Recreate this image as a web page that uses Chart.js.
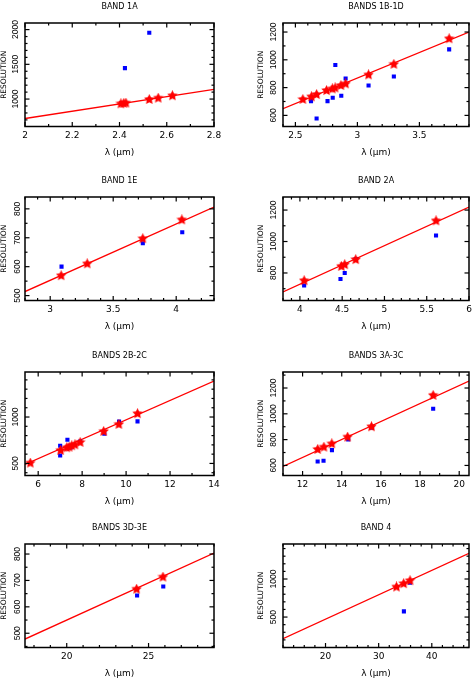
<!DOCTYPE html>
<html><head><meta charset="utf-8">
<script src="https://cdn.jsdelivr.net/npm/chart.js@4/dist/chart.umd.min.js"></script>
<style>
html,body{margin:0;padding:0;background:#fff;overflow:hidden;width:474px;height:679px;position:relative;}
canvas{position:absolute;}
</style></head><body>
<canvas id="c0" width="237" height="160" style="left:0px;top:0px"></canvas>
<canvas id="c1" width="217" height="160" style="left:257px;top:0px"></canvas>
<canvas id="c2" width="237" height="160" style="left:0px;top:174px"></canvas>
<canvas id="c3" width="217" height="160" style="left:257px;top:174px"></canvas>
<canvas id="c4" width="237" height="160" style="left:0px;top:349px"></canvas>
<canvas id="c5" width="217" height="160" style="left:257px;top:349px"></canvas>
<canvas id="c6" width="237" height="160" style="left:0px;top:521px"></canvas>
<canvas id="c7" width="217" height="160" style="left:257px;top:521px"></canvas>
<script>
// ---------------- DATA ----------------
const titles = ['BAND 1A','BANDS 1B-1D','BAND 1E','BAND 2A','BANDS 2B-2C','BANDS 3A-3C','BANDS 3D-3E','BAND 4'];

// BAND 1A
const b1A_xRange = [2.0, 2.8];
const b1A_yRange = [605, 2095];
const b1A_xTicks = [2, 2.2, 2.4, 2.6, 2.8];
const b1A_yTicks = [1000, 1500, 2000];
const b1A_lineX = [2.0, 2.8];
const b1A_lineY = [720, 1140];
const b1A_starX = [2.406, 2.418, 2.427, 2.526, 2.564, 2.624];
const b1A_starY = [932, 938, 943, 994, 1014, 1048];
const b1A_dotX = [2.408, 2.423, 2.526];
const b1A_dotY = [942, 1445, 1955];

// BANDS 1B-1D
const b1B_xRange = [2.4, 3.9];
const b1B_yRange = [520, 1265];
const b1B_xTicks = [2.5, 3, 3.5];
const b1B_yTicks = [600, 800, 1000, 1200];
const b1B_lineX = [2.4, 3.9];
const b1B_lineY = [648, 1200];
const b1B_starX = [2.56, 2.629, 2.671, 2.751, 2.798, 2.82, 2.867, 2.905, 3.09, 3.294, 3.74];
const b1B_starY = [715, 734, 750, 779, 791, 798, 815, 827, 892, 968, 1152];
const b1B_dotX = [2.626, 2.671, 2.759, 2.801, 2.822, 2.870, 2.905, 3.09, 3.294, 3.74];
const b1B_dotY = [703, 578, 703, 727, 963, 741, 865, 815, 880, 1075];

// BAND 1E
const b1E_xRange = [2.8, 4.3];
const b1E_yRange = [483, 841];
const b1E_xTicks = [3, 3.5, 4];
const b1E_yTicks = [500, 600, 700, 800];
const b1E_lineX = [2.8, 4.3];
const b1E_lineY = [514, 806];
const b1E_starX = [3.087, 3.294, 3.735, 4.045];
const b1E_starY = [569, 610, 697, 762];
const b1E_dotX = [3.09, 3.735, 4.048];
const b1E_dotY = [600, 681, 719];

// BAND 2A
const b2A_xRange = [3.8, 6.0];
const b2A_yRange = [625, 1283];
const b2A_xTicks = [4, 4.5, 5, 5.5, 6];
const b2A_yTicks = [800, 1000, 1200];
const b2A_lineX = [3.8, 6.0];
const b2A_lineY = [679, 1219];
const b2A_starX = [4.05, 4.49, 4.53, 4.66, 5.61];
const b2A_starY = [751, 842, 853, 885, 1132];
const b2A_dotX = [4.05, 4.48, 4.53, 4.66, 5.61];
const b2A_dotY = [720, 762, 800, 889, 1038];

// BANDS 2B-2C
const b2B_xRange = [5.4, 14];
const b2B_yRange = [370, 1485];
const b2B_xTicks = [6, 8, 10, 12, 14];
const b2B_yTicks = [500, 1000];
const b2B_lineX = [5.4, 14];
const b2B_lineY = [489, 1388];
const b2B_starX = [5.64, 7.02, 7.30, 7.41, 7.53, 7.67, 7.91, 8.98, 9.67, 10.52];
const b2B_starY = [504, 640, 669, 676, 691, 701, 727, 845, 921, 1036];
const b2B_dotX = [7.0, 7.0, 7.33, 7.48, 7.91, 9.01, 9.68, 10.52];
const b2B_dotY = [691, 586, 755, 673, 737, 820, 950, 953];

// BANDS 3A-3C
const b3A_xRange = [11, 20.5];
const b3A_yRange = [522, 1324];
const b3A_xTicks = [12, 14, 16, 18, 20];
const b3A_yTicks = [600, 800, 1000, 1200];
const b3A_lineX = [11, 20.5];
const b3A_lineY = [592, 1254];
const b3A_starX = [12.77, 13.09, 13.49, 14.3, 15.52, 18.67];
const b3A_starY = [724, 742, 768, 820, 900, 1143];
const b3A_dotX = [12.77, 13.07, 13.5, 14.33, 15.55, 18.67];
const b3A_dotY = [631, 636, 719, 802, 893, 1039];

// BANDS 3D-3E
const b3D_xRange = [17.45, 29];
const b3D_yRange = [446, 838];
const b3D_xTicks = [20, 25];
const b3D_yTicks = [500, 600, 700, 800];
const b3D_lineX = [17.45, 29];
const b3D_lineY = [478, 804];
const b3D_starX = [24.27, 25.88];
const b3D_starY = [667, 713];
const b3D_dotX = [24.3, 25.9];
const b3D_dotY = [643, 677];

// BAND 4
const b4_xRange = [12, 47];
const b4_yRange = [100, 1460];
const b4_xTicks = [20, 30, 40];
const b4_yTicks = [500, 1000];
const b4_lineX = [12, 47];
const b4_lineY = [215, 1338];
const b4_starX = [33.35, 34.7, 35.9];
const b4_starY = [895, 939, 978];
const b4_dotX = [35.9, 34.75];
const b4_dotY = [952, 575];

// minor tick steps (style)
const xMinorSteps = [0.1, 0.1, 0.1, 0.1, 1, 1, 1, 2];
const yMinorSteps = [100, 100, 50, 100, 100, 100, 50, 100];

// ---------------- BUILD ----------------
const panels = [
  [b1A_xRange,b1A_yRange,b1A_xTicks,b1A_yTicks,b1A_lineX,b1A_lineY,b1A_starX,b1A_starY,b1A_dotX,b1A_dotY],
  [b1B_xRange,b1B_yRange,b1B_xTicks,b1B_yTicks,b1B_lineX,b1B_lineY,b1B_starX,b1B_starY,b1B_dotX,b1B_dotY],
  [b1E_xRange,b1E_yRange,b1E_xTicks,b1E_yTicks,b1E_lineX,b1E_lineY,b1E_starX,b1E_starY,b1E_dotX,b1E_dotY],
  [b2A_xRange,b2A_yRange,b2A_xTicks,b2A_yTicks,b2A_lineX,b2A_lineY,b2A_starX,b2A_starY,b2A_dotX,b2A_dotY],
  [b2B_xRange,b2B_yRange,b2B_xTicks,b2B_yTicks,b2B_lineX,b2B_lineY,b2B_starX,b2B_starY,b2B_dotX,b2B_dotY],
  [b3A_xRange,b3A_yRange,b3A_xTicks,b3A_yTicks,b3A_lineX,b3A_lineY,b3A_starX,b3A_starY,b3A_dotX,b3A_dotY],
  [b3D_xRange,b3D_yRange,b3D_xTicks,b3D_yTicks,b3D_lineX,b3D_lineY,b3D_starX,b3D_starY,b3D_dotX,b3D_dotY],
  [b4_xRange,b4_yRange,b4_xTicks,b4_yTicks,b4_lineX,b4_lineY,b4_starX,b4_starY,b4_dotX,b4_dotY]
];

function makeStar(size, color) {
  const c = document.createElement('canvas');
  c.width = size; c.height = size;
  const g = c.getContext('2d');
  g.fillStyle = color;
  g.beginPath();
  const cx = size / 2, cy = size / 2, R = size / 2, r = R * 0.5;
  for (let i = 0; i < 10; i++) {
    const a = -Math.PI / 2 + i * Math.PI / 5;
    const rad = i % 2 ? r : R;
    g.lineTo(cx + rad * Math.cos(a), cy + rad * Math.sin(a));
  }
  g.closePath();
  g.fill();
  return c;
}
const starImg = makeStar(11, '#ff0000');

const framePlugin = {
  id: 'frame',
  afterDraw(chart, args, opts) {
    const {ctx, chartArea: a} = chart;
    const xs = chart.scales.x, ys = chart.scales.y;
    ctx.save();
    ctx.strokeStyle = '#000';
    ctx.lineWidth = 1.2;
    const seg = (x1, y1, x2, y2) => { ctx.beginPath(); ctx.moveTo(x1, y1); ctx.lineTo(x2, y2); ctx.stroke(); };
    const MAJ = 4.5, MIN = 2.5;
    const xMajor = xs.ticks.map(t => t.value);
    const yMajor = ys.ticks.map(t => t.value);
    const n0x = Math.ceil(xs.min / opts.xMinor - 1e-6), n1x = Math.floor(xs.max / opts.xMinor + 1e-6);
    for (let i = n0x; i <= n1x; i++) {
      const v = i * opts.xMinor;
      const isMaj = xMajor.some(m => Math.abs(m - v) < 1e-6);
      const p = xs.getPixelForValue(v);
      const L = isMaj ? MAJ : MIN;
      seg(p, a.bottom, p, a.bottom - L);
      seg(p, a.top, p, a.top + L);
    }
    const n0y = Math.ceil(ys.min / opts.yMinor - 1e-6), n1y = Math.floor(ys.max / opts.yMinor + 1e-6);
    for (let i = n0y; i <= n1y; i++) {
      const v = i * opts.yMinor;
      const isMaj = yMajor.some(m => Math.abs(m - v) < 1e-6);
      const p = ys.getPixelForValue(v);
      const L = isMaj ? MAJ : MIN;
      seg(a.left, p, a.left + L, p);
      seg(a.right, p, a.right - L, p);
    }
    ctx.lineWidth = 1.5;
    ctx.strokeRect(a.left, a.top, a.right - a.left, a.bottom - a.top);
    ctx.restore();
  }
};

const pts = (xs, ys) => xs.map((x, i) => ({x: x, y: ys[i]}));
const fmt = v => String(Math.round(v * 1000) / 1000);

panels.forEach((p, k) => {
  const [xr, yr, xt, yt, lx, ly, sx, sy, dx, dy] = p;
  const right = k % 2 === 1;
  new Chart(document.getElementById('c' + k), {
    type: 'scatter',
    data: {
      datasets: [
        {data: pts(lx, ly), showLine: true, borderColor: '#ff0000', borderWidth: 1.3, pointRadius: 0, order: 3},
        {data: pts(dx, dy), pointStyle: 'rect', pointRadius: 2.9, backgroundColor: '#0000ff', borderWidth: 0, order: 2},
        {data: pts(sx, sy), pointStyle: starImg, pointRadius: 5, backgroundColor: '#ff0000', borderWidth: 0, order: 1}
      ]
    },
    options: {
      responsive: false,
      animation: false,
      events: [],
      layout: {padding: {left: 0, top: 0, bottom: 0, right: right ? 1.5 : 23}},
      plugins: {
        legend: {display: false},
        tooltip: {enabled: false},
        title: {display: true, text: titles[k], fullSize: false, color: '#000',
          font: {family: 'DejaVu Sans', size: 8, weight: 'normal', lineHeight: 1},
          padding: {top: 2.5, bottom: 12.5}},
        frame: {xMinor: xMinorSteps[k], yMinor: yMinorSteps[k]}
      },
      scales: {
        x: {
          type: 'linear', min: xr[0], max: xr[1],
          grid: {display: false, drawTicks: false}, border: {display: false},
          afterBuildTicks: s => { s.ticks = xt.map(v => ({value: v})); },
          afterFit: s => { s.height = 33.5; s.paddingLeft = 0; s.paddingRight = 0; },
          ticks: {color: '#000', padding: 4, autoSkip: false, maxRotation: 0, minRotation: 0,
            font: {family: 'DejaVu Sans', size: 9}, callback: v => fmt(v)},
          title: {display: true, text: 'λ (μm)', color: '#000',
            font: {family: 'DejaVu Sans', size: 9, lineHeight: 1}, padding: {top: 0, bottom: 2.5}}
        },
        y: {
          type: 'linear', min: yr[0], max: yr[1],
          grid: {display: false, drawTicks: false}, border: {display: false},
          afterBuildTicks: s => { s.ticks = yt.map(v => ({value: v})); },
          afterFit: s => { s.width = right ? 26 : 25; },
          ticks: {color: '#000', padding: 0, autoSkip: false, minRotation: 90, maxRotation: 90, crossAlign: 'center',
            font: {family: 'Liberation Sans', size: 8.5}, callback: v => fmt(v)},
          title: {display: true, text: 'RESOLUTION', color: '#000',
            font: {family: 'DejaVu Sans', size: 7.5, lineHeight: 1}, padding: {top: 0, bottom: 0}}
        }
      }
    },
    plugins: [framePlugin]
  });
});
</script>
</body></html>
